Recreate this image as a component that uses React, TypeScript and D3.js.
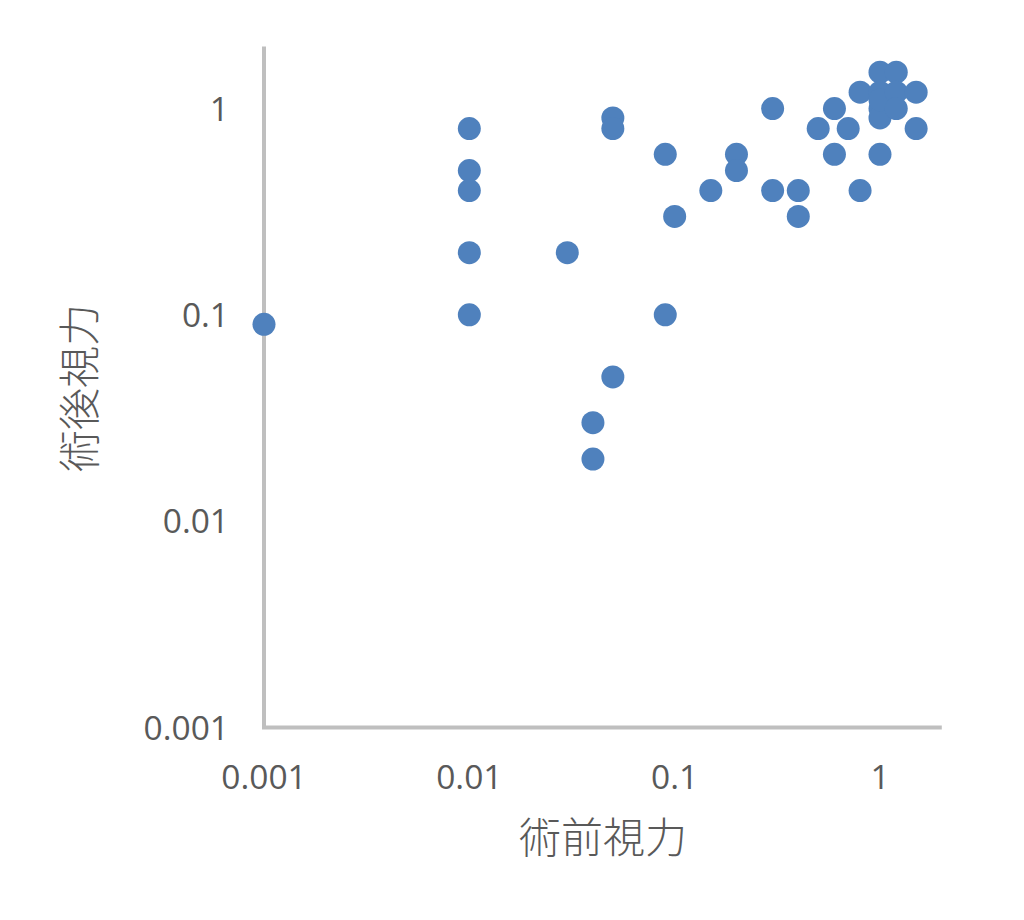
import React from "react";
import * as d3 from "d3";

const preVision: number[] = [
  0.001,
  0.01, 0.01, 0.01, 0.01, 0.01,
  0.03,
  0.04, 0.04,
  0.05, 0.05, 0.05,
  0.09, 0.09,
  0.1,
  0.15,
  0.2, 0.2,
  0.3, 0.3,
  0.4, 0.4,
  0.5,
  0.6, 0.6,
  0.7,
  0.8, 0.8,
  1, 1, 1, 1, 1, 1,
  1.2, 1.2, 1.2,
  1.5, 1.5,
];
const postVision: number[] = [
  0.09,
  0.8, 0.5, 0.4, 0.2, 0.1,
  0.2,
  0.03, 0.02,
  0.9, 0.8, 0.05,
  0.6, 0.1,
  0.3,
  0.4,
  0.6, 0.5,
  1, 0.4,
  0.4, 0.3,
  0.8,
  1, 0.6,
  0.8,
  1.2, 0.4,
  1.5, 1.2, 1, 0.9, 0.6, 1.1,
  1.5, 1.2, 1,
  1.2, 0.8,
];
const tickValues: number[] = [0.001, 0.01, 0.1, 1];
const tickLabels: string[] = ["0.001", "0.01", "0.1", "1"];
const xTitle = "術前視力";
const yTitle = "術後視力";

export default function App() {
  const W = 1024;
  const H = 920;
  const x = d3.scaleLog().domain([0.001, 2]).range([264, 941.8]);
  const y = d3.scaleLog().domain([0.001, 2]).range([727.5, 46.4]);
  const axisColor = "#BFBFBF";
  const textColor = "#595959";
  const dotColor = "#4F81BD";
  const numFont = "'Open Sans', 'Noto Sans', sans-serif";
  const cjkFont = "'Noto Sans CJK JP', sans-serif";
  const pts = preVision.map((v, i) => ({ px: v, py: postVision[i] }));
  return (
    <svg
      width={W}
      height={H}
      style={{ position: "absolute", left: 0, top: 0, background: "#fff" }}
    >
      <rect x={0} y={0} width={W} height={H} fill="#fff" />
      {/* axes */}
      <line x1={x(0.001)} x2={x(0.001)} y1={y(2)} y2={y(0.001)} stroke={axisColor} strokeWidth={4} />
      <line x1={x(0.001) - 2} x2={x(2)} y1={y(0.001)} y2={y(0.001)} stroke={axisColor} strokeWidth={4} />
      {/* y tick labels */}
      {tickValues.map((t, i) => (
        <text
          key={"y" + i}
          x={229}
          y={y(t)}
          dy="0.36em"
          textAnchor="end"
          fontFamily={numFont}
          fontSize={33.5}
          fill={textColor}
        >
          {tickLabels[i]}
        </text>
      ))}
      {/* x tick labels */}
      {tickValues.map((t, i) => (
        <text
          key={"x" + i}
          x={x(t)}
          y={777}
          dy="0.36em"
          textAnchor="middle"
          fontFamily={numFont}
          fontSize={33.5}
          fill={textColor}
        >
          {tickLabels[i]}
        </text>
      ))}
      {/* points */}
      {pts.map((p, i) => (
        <circle key={i} cx={x(p.px)} cy={y(p.py)} r={11.5} fill={dotColor} />
      ))}
      {/* titles */}
      <text
        x={603}
        y={838}
        dy="0.36em"
        textAnchor="middle"
        fontFamily={cjkFont}
        fontWeight={300}
        fontSize={42}
        fill={textColor}
      >
        {xTitle}
      </text>
      <text
        transform={`translate(80,388) rotate(-90)`}
        dy="0.36em"
        textAnchor="middle"
        fontFamily={cjkFont}
        fontWeight={300}
        fontSize={42}
        fill={textColor}
      >
        {yTitle}
      </text>
    </svg>
  );
}
